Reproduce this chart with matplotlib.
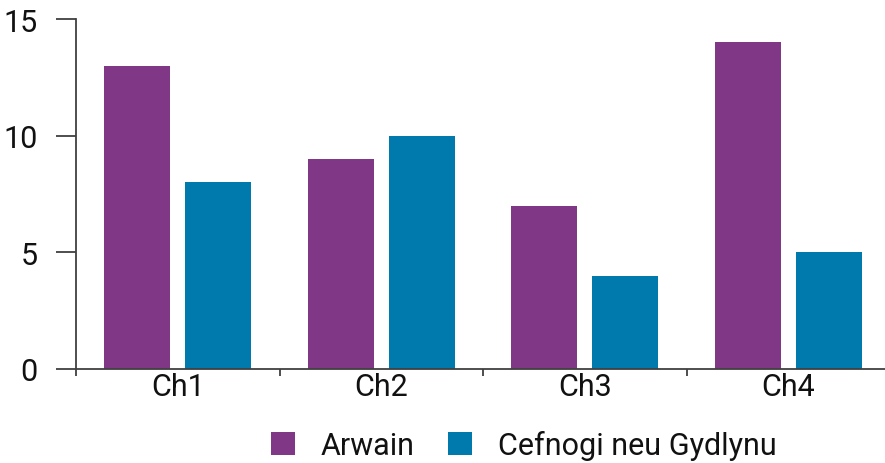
import numpy as np
import matplotlib
matplotlib.use("Agg")
import matplotlib.pyplot as plt

plt.rcParams['font.family'] = ['Roboto', 'DejaVu Sans']

# data
categories = ["Ch1", "Ch2", "Ch3", "Ch4"]
arwain = [13, 9, 7, 14]
cefnogi = [8, 10, 4, 5]
series_names = ["Arwain", "Cefnogi neu Gydlynu"]

purple = "#7f3786"
blue = "#0079ad"
axis_col = "#404040"

fig = plt.figure(figsize=(8.85, 4.64), dpi=100)
ax = fig.add_axes([76 / 885, 94 / 464, 814 / 885, 350 / 464])

ind = np.arange(len(categories))
width = 0.324
off = 0.2
ax.bar(ind - off, arwain, width, color=purple, label=series_names[0])
ax.bar(ind + off, cefnogi, width, color=blue, label=series_names[1])

ax.set_xlim(-0.5, len(categories) - 0.5)
ax.set_ylim(0, 15)

# spines
for s in ["top", "right"]:
    ax.spines[s].set_visible(False)
for s in ["left", "bottom"]:
    ax.spines[s].set_color(axis_col)
    ax.spines[s].set_linewidth(1.3)

# y axis: long ticks sticking out to the left
ax.set_yticks([0, 5, 10, 15])
ax.tick_params(axis="y", direction="out", length=14.5, width=1.3,
               color=axis_col, pad=13, labelsize=22, labelcolor="#111111")

# x axis: tick marks between groups, labels in the middle
ax.set_xticks(np.arange(len(categories) + 1) - 0.5)
ax.set_xticklabels([])
ax.tick_params(axis="x", which="major", direction="out", length=5,
               width=1.3, color=axis_col)
ax.set_xticks(ind, minor=True)
ax.set_xticklabels(categories, minor=True)
ax.tick_params(axis="x", which="minor", length=0, pad=2, labelsize=22,
               labelcolor="#111111")

fig.legend(loc="center", bbox_to_anchor=(524 / 885, 18 / 464), ncol=2,
           frameon=False, fontsize=22, handlelength=0.78, handleheight=0.78,
           handletextpad=0.85, columnspacing=1.1, labelcolor="#111111")

fig.savefig("out.png", dpi=100)
